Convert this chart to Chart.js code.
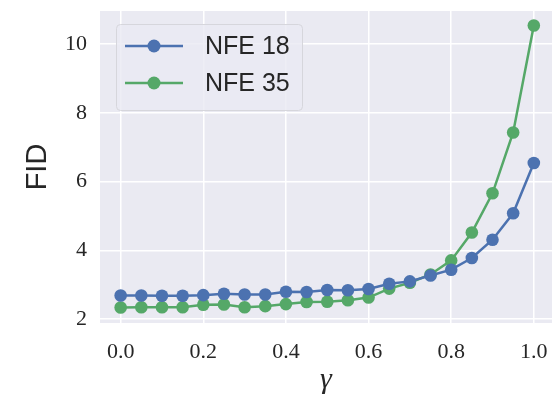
<!DOCTYPE html>
<html>
<head>
<meta charset="utf-8">
<script src="https://cdn.jsdelivr.net/npm/chart.js@4.4.1/dist/chart.umd.min.js"></script>
<style>
  html, body { margin: 0; padding: 0; background: #fff; overflow: hidden; }
  #wrap { width: 552px; height: 398px; }
</style>
</head>
<body>
<div id="wrap"><canvas id="fidChart"></canvas></div>
<script>
// gamma values on the x axis
const gammas = [0.0, 0.05, 0.1, 0.15, 0.2, 0.25, 0.3, 0.35, 0.4, 0.45, 0.5,
                0.55, 0.6, 0.65, 0.7, 0.75, 0.8, 0.85, 0.9, 0.95, 1.0];
// FID
const fidNfe18 = [2.69, 2.69, 2.68, 2.68, 2.70, 2.74, 2.72, 2.72, 2.80, 2.79, 2.85,
                  2.84, 2.88, 3.03, 3.10, 3.27, 3.44, 3.78, 4.31, 5.08, 6.54];
const fidNfe35 = [2.34, 2.35, 2.35, 2.35, 2.42, 2.43, 2.35, 2.38, 2.44, 2.50, 2.51,
                  2.55, 2.63, 2.89, 3.06, 3.30, 3.71, 4.52, 5.66, 7.43, 10.54];
const seriesNames = ['NFE 18', 'NFE 35'];
const xTicks = [0.0, 0.2, 0.4, 0.6, 0.8, 1.0];
const yTicks = [2, 4, 6, 8, 10];

const blue = '#4C72B0';
const green = '#55A868';

// seaborn-like grey plot background
const bgPlugin = {
    id: 'plotBg',
    beforeDraw(chart) {
        const { ctx, chartArea: a } = chart;
        ctx.save();
        ctx.fillStyle = '#EAEAF2';
        ctx.fillRect(a.left, a.top, a.right - a.left, a.bottom - a.top);
        ctx.restore();
    }
};

// legend drawn inside the axes, upper left
const innerLegend = {
    id: 'innerLegend',
    afterDatasetsDraw(chart) {
        const ctx = chart.ctx;
        const x = 116, y = 24, w = 186, h = 86;
        ctx.save();
        ctx.beginPath();
        ctx.roundRect(x + 0.5, y + 0.5, w, h, 4);
        ctx.fillStyle = 'rgba(234,234,242,0.8)';
        ctx.fill();
        ctx.strokeStyle = '#d6d6dc';
        ctx.lineWidth = 1;
        ctx.stroke();
        chart.data.datasets.forEach((ds, i) => {
            const cy = 46 + i * 37;
            ctx.strokeStyle = ds.borderColor;
            ctx.lineWidth = 2.5;
            ctx.beginPath();
            ctx.moveTo(125, cy);
            ctx.lineTo(183, cy);
            ctx.stroke();
            ctx.fillStyle = ds.borderColor;
            ctx.beginPath();
            ctx.arc(154, cy, 6.5, 0, Math.PI * 2);
            ctx.fill();
            ctx.fillStyle = '#262626';
            ctx.font = '25px "Liberation Sans", Arial, sans-serif';
            ctx.textBaseline = 'middle';
            ctx.textAlign = 'left';
            ctx.fillText(ds.label, 205, cy + 1);
        });
        ctx.restore();
    }
};

const ctx = document.getElementById('fidChart').getContext('2d');
new Chart(ctx, {
    type: 'line',
    data: {
        datasets: [
            {
                label: seriesNames[0],
                data: gammas.map((g, i) => ({ x: g, y: fidNfe18[i] })),
                borderColor: blue,
                backgroundColor: blue,
                borderWidth: 2.5,
                pointRadius: 6.3,
                pointBorderWidth: 0,
                pointHoverRadius: 6.3
            },
            {
                label: seriesNames[1],
                data: gammas.map((g, i) => ({ x: g, y: fidNfe35[i] })),
                borderColor: green,
                backgroundColor: green,
                borderWidth: 2.5,
                pointRadius: 6.3,
                pointBorderWidth: 0,
                pointHoverRadius: 6.3
            }
        ]
    },
    options: {
        responsive: true,
        maintainAspectRatio: false,
        animation: false,
        clip: false,
        layout: { autoPadding: false, padding: { left: 0, top: 11, right: 0, bottom: 0 } },
        plugins: { legend: { display: false }, tooltip: { enabled: false } },
        scales: {
            x: {
                type: 'linear',
                // the figure is cropped just past 1.0 on the right
                min: -0.05,
                max: 1.044,
                afterBuildTicks: s => { s.ticks = xTicks.map(v => ({ value: v })); },
                afterFit: s => {
                    s.height = 75;
                    s.paddingLeft = 0;
                    s.paddingRight = 0;
                },
                grid: { color: '#ffffff', lineWidth: 1.5, drawTicks: false },
                border: { display: false },
                ticks: {
                    padding: 16,
                    color: '#262626',
                    font: { family: '"Liberation Serif", "DejaVu Serif", serif', size: 22 },
                    callback: v => v.toFixed(1)
                },
                title: {
                    display: true,
                    text: 'γ',
                    color: '#262626',
                    padding: { top: 0, bottom: 0 },
                    font: { family: '"Liberation Serif", serif', size: 30, style: 'italic' }
                }
            },
            y: {
                min: 1.89,
                max: 10.96,
                afterBuildTicks: s => { s.ticks = yTicks.map(v => ({ value: v })); },
                afterFit: s => {
                    s.width = 100;
                    s.paddingTop = 0;
                    s.paddingBottom = 0;
                },
                grid: { color: '#ffffff', lineWidth: 1.5, drawTicks: false },
                border: { display: false },
                ticks: {
                    padding: 13,
                    color: '#262626',
                    font: { family: '"Liberation Serif", "DejaVu Serif", serif', size: 22 },
                    callback: v => String(v)
                },
                title: {
                    display: true,
                    text: 'FID',
                    color: '#262626',
                    padding: { top: 21, bottom: 0 },
                    font: { family: '"Liberation Sans", Arial, sans-serif', size: 29 }
                }
            }
        }
    },
    plugins: [bgPlugin, innerLegend]
});
</script>
</body>
</html>
